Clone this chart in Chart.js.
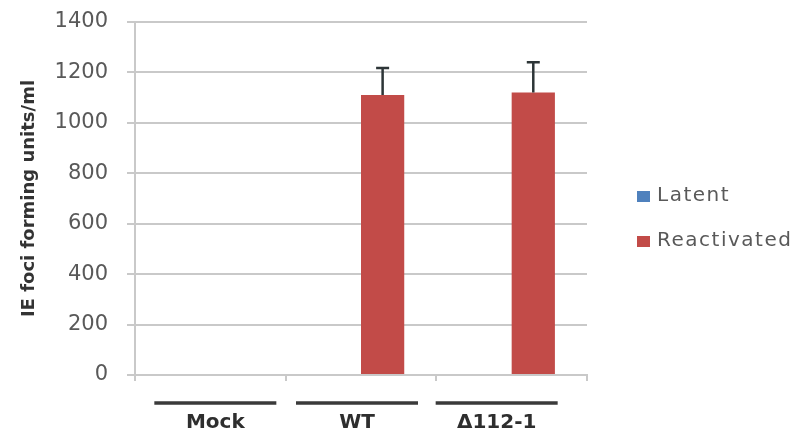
<!DOCTYPE html>
<html>
<head>
<meta charset="utf-8">
<title>IE foci forming units</title>
<script src="https://cdn.jsdelivr.net/npm/chart.js@4.4.1/dist/chart.umd.min.js"></script>
<style>
  html, body { margin: 0; padding: 0; background: #ffffff; }
  #wrap { width: 801px; height: 436px; }
</style>
</head>
<body>
<div id="wrap"><canvas id="foci" width="801" height="436"></canvas></div>
<script>
// ── data ────────────────────────────────────────────────────────────────
const groups = ['Mock', 'WT', 'Δ112-1'];
const latent = [0, 0, 0];
const reactivated = [0, 1110, 1120];
const reactivatedErr = [0, 108, 120];
const yTicks = [0, 200, 400, 600, 800, 1000, 1200, 1400];

const FONT = "'DejaVu Sans', 'Liberation Sans', sans-serif";
const GREY_TEXT = '#595959';
const GRID = '#c9c9c9';
// hand-placed group captions sit a little off the category centres
const captionShift = [5, -4, -15];

// upward-only error bars on the Reactivated series
const errorBars = {
  id: 'errorBars',
  afterDatasetsDraw(chart) {
    const meta = chart.getDatasetMeta(1);
    const y = chart.scales.y;
    const ctx = chart.ctx;
    ctx.save();
    ctx.strokeStyle = '#2d3537';
    ctx.lineWidth = 2.5;
    meta.data.forEach((bar, i) => {
      const err = reactivatedErr[i];
      if (!err) return;
      const top = y.getPixelForValue(reactivated[i] + err);
      ctx.beginPath();
      ctx.moveTo(bar.x, bar.y);
      ctx.lineTo(bar.x, top);
      ctx.moveTo(bar.x - 6.5, top);
      ctx.lineTo(bar.x + 6.5, top);
      ctx.stroke();
    });
    ctx.restore();
  }
};

// group captions with a dark rule above each name
const groupCaptions = {
  id: 'groupCaptions',
  afterDraw(chart) {
    const x = chart.scales.x;
    const ctx = chart.ctx;
    const ruleY = x.top + 28;
    ctx.save();
    ctx.strokeStyle = '#3a3a3a';
    ctx.lineWidth = 3.5;
    ctx.fillStyle = '#2e2e2e';
    ctx.font = 'bold 20px ' + FONT;
    ctx.textAlign = 'center';
    ctx.textBaseline = 'middle';
    groups.forEach((g, i) => {
      const cx = x.getPixelForValue(i) + captionShift[i];
      ctx.beginPath();
      ctx.moveTo(cx - 61, ruleY);
      ctx.lineTo(cx + 61, ruleY);
      ctx.stroke();
      ctx.fillText(g, cx, x.top + 48);
    });
    ctx.restore();
  }
};

// legend on the right, built from the datasets
const sideLegend = {
  id: 'sideLegend',
  afterDraw(chart) {
    const ctx = chart.ctx;
    const area = chart.chartArea;
    const x0 = area.right + 50;
    const rowGap = 45;
    const y0 = area.top + 174;
    ctx.save();
    ctx.font = '20px ' + FONT;
    ctx.letterSpacing = '1.5px';
    ctx.textBaseline = 'middle';
    ctx.textAlign = 'left';
    chart.data.datasets.forEach((ds, i) => {
      const cy = y0 + i * rowGap;
      ctx.fillStyle = ds.backgroundColor;
      ctx.fillRect(x0, cy - 5, 13, 11);
      ctx.fillStyle = GREY_TEXT;
      ctx.fillText(ds.label, x0 + 20, cy);
    });
    ctx.restore();
  }
};

new Chart(document.getElementById('foci'), {
  type: 'bar',
  data: {
    labels: groups,
    datasets: [
      { label: 'Latent', data: latent, backgroundColor: '#4f81bd' },
      { label: 'Reactivated', data: reactivated, backgroundColor: '#c24b48' }
    ]
  },
  options: {
    responsive: false,
    animation: false,
    devicePixelRatio: 1,
    datasets: { bar: { categoryPercentage: 0.574, barPercentage: 1.0 } },
    layout: { padding: { top: 22, right: 214, bottom: 0, left: 0 } },
    plugins: {
      legend: { display: false },
      tooltip: { enabled: false }
    },
    scales: {
      x: {
        afterFit(scale) { scale.height = 61; },
        grid: { drawOnChartArea: false, drawTicks: true, tickLength: 6, color: GRID, lineWidth: 2 },
        border: { color: GRID, width: 2 },
        ticks: { display: false }
      },
      y: {
        min: 0,
        max: 1400,
        afterBuildTicks(scale) { scale.ticks = yTicks.map(v => ({ value: v })); },
        afterFit(scale) {
          scale.width = 135;
          scale.paddingTop = 0;
          scale.paddingBottom = 0;
        },
        grid: { color: GRID, lineWidth: 2, tickLength: 8 },
        border: { color: GRID, width: 2 },
        ticks: {
          font: { family: FONT, size: 21 },
          color: GREY_TEXT,
          padding: 19,
          callback: v => String(v)
        },
        title: {
          display: true,
          text: 'IE foci forming units/ml',
          font: { family: FONT, size: 18, weight: 'bold' },
          color: '#333333',
          padding: { top: 19, bottom: 0 }
        }
      }
    }
  },
  plugins: [errorBars, groupCaptions, sideLegend]
});
</script>
</body>
</html>
